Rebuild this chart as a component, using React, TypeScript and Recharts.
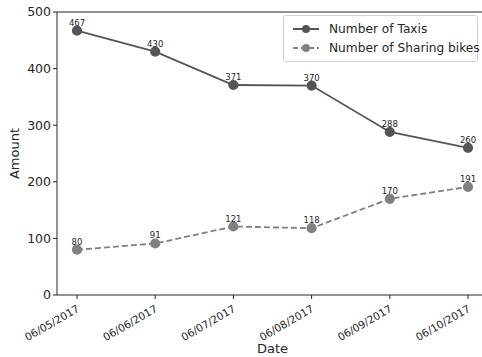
import { LabelList, Line, LineChart, ReferenceLine, XAxis, YAxis } from "recharts";

const dates = ["06/05/2017", "06/06/2017", "06/07/2017", "06/08/2017", "06/09/2017", "06/10/2017"];
const taxis = [467, 430, 371, 370, 288, 260];
const bikes = [80, 91, 121, 118, 170, 191];
const yTicks = [0, 100, 200, 300, 400, 500];

const TAXI = "#555555";
const BIKE = "#808080";
const INK = "#262626";
const FONT = "'DejaVu Sans', sans-serif";

const data = dates.map((d, i) => ({ date: d, taxis: taxis[i], bikes: bikes[i] }));

function DateTick({ x, y, payload }: any) {
  return (
    <g transform={`translate(${x - 1},${y + 3})`}>
      <text textAnchor="end" transform="rotate(-30)" fontSize={10.5} fill={INK} fontFamily={FONT} dy={8}>
        {payload.value}
      </text>
    </g>
  );
}

function LegendBox() {
  const rows = [
    { name: "Number of Taxis", color: TAXI, dash: undefined },
    { name: "Number of Sharing bikes", color: BIKE, dash: "5 3" },
  ];
  return (
    <div style={{
      position: "absolute", left: 283, top: 15, width: 195, boxSizing: "border-box",
      border: "1px solid #d0d0d0", borderRadius: 3, background: "rgba(255,255,255,0.8)",
      padding: "3px 4px 4px 8px", fontFamily: FONT, fontSize: 12.2, color: INK, whiteSpace: "nowrap",
    }}>
      {rows.map((r) => (
        <div key={r.name} style={{ display: "flex", alignItems: "center", height: 19 }}>
          <svg width={28} height={12} style={{ marginRight: 9, flexShrink: 0 }}>
            <line x1={1} y1={6} x2={27} y2={6} stroke={r.color} strokeWidth={2} strokeDasharray={r.dash} />
            <circle cx={14} cy={6} r={4} fill={r.color} />
          </svg>
          <span>{r.name}</span>
        </div>
      ))}
    </div>
  );
}

export default function App() {
  return (
    <div style={{ position: "absolute", left: 0, top: 0, width: 482, height: 357, overflow: "hidden", background: "#fff" }}>
      <LineChart width={500} height={357} data={data} margin={{ top: 12, right: 12, left: 0, bottom: 0 }}>
        <XAxis dataKey="date" height={62} padding={{ left: 20, right: 20 }} interval={0}
          stroke={INK} tickSize={4} tick={<DateTick />}
          label={{ value: "Date", position: "insideBottom", offset: 4, fill: INK, fontSize: 13, fontFamily: FONT }} />
        <YAxis type="number" domain={[0, 500]} ticks={yTicks} width={57} stroke={INK} tickSize={4}
          tick={{ fill: INK, fontSize: 12.5, fontFamily: FONT }}
          label={{ value: "Amount", angle: -90, position: "insideLeft", offset: 14, fill: INK, fontSize: 13, fontFamily: FONT, style: { textAnchor: "middle" } }} />
        <ReferenceLine y={500} stroke={INK} />
        <Line type="linear" dataKey="taxis" stroke={TAXI} strokeWidth={1.8}
          dot={{ r: 4.2, fill: TAXI, stroke: TAXI }} isAnimationActive={false}>
          <LabelList dataKey="taxis" position="top" offset={5} fontSize={8.5} fill={INK} fontFamily={FONT} />
        </Line>
        <Line type="linear" dataKey="bikes" stroke={BIKE} strokeWidth={1.8} strokeDasharray="6 3"
          dot={{ r: 4.2, fill: BIKE, stroke: BIKE, strokeDasharray: "" }} isAnimationActive={false}>
          <LabelList dataKey="bikes" position="top" offset={5} fontSize={8.5} fill={INK} fontFamily={FONT} />
        </Line>
      </LineChart>
      <LegendBox />
    </div>
  );
}
